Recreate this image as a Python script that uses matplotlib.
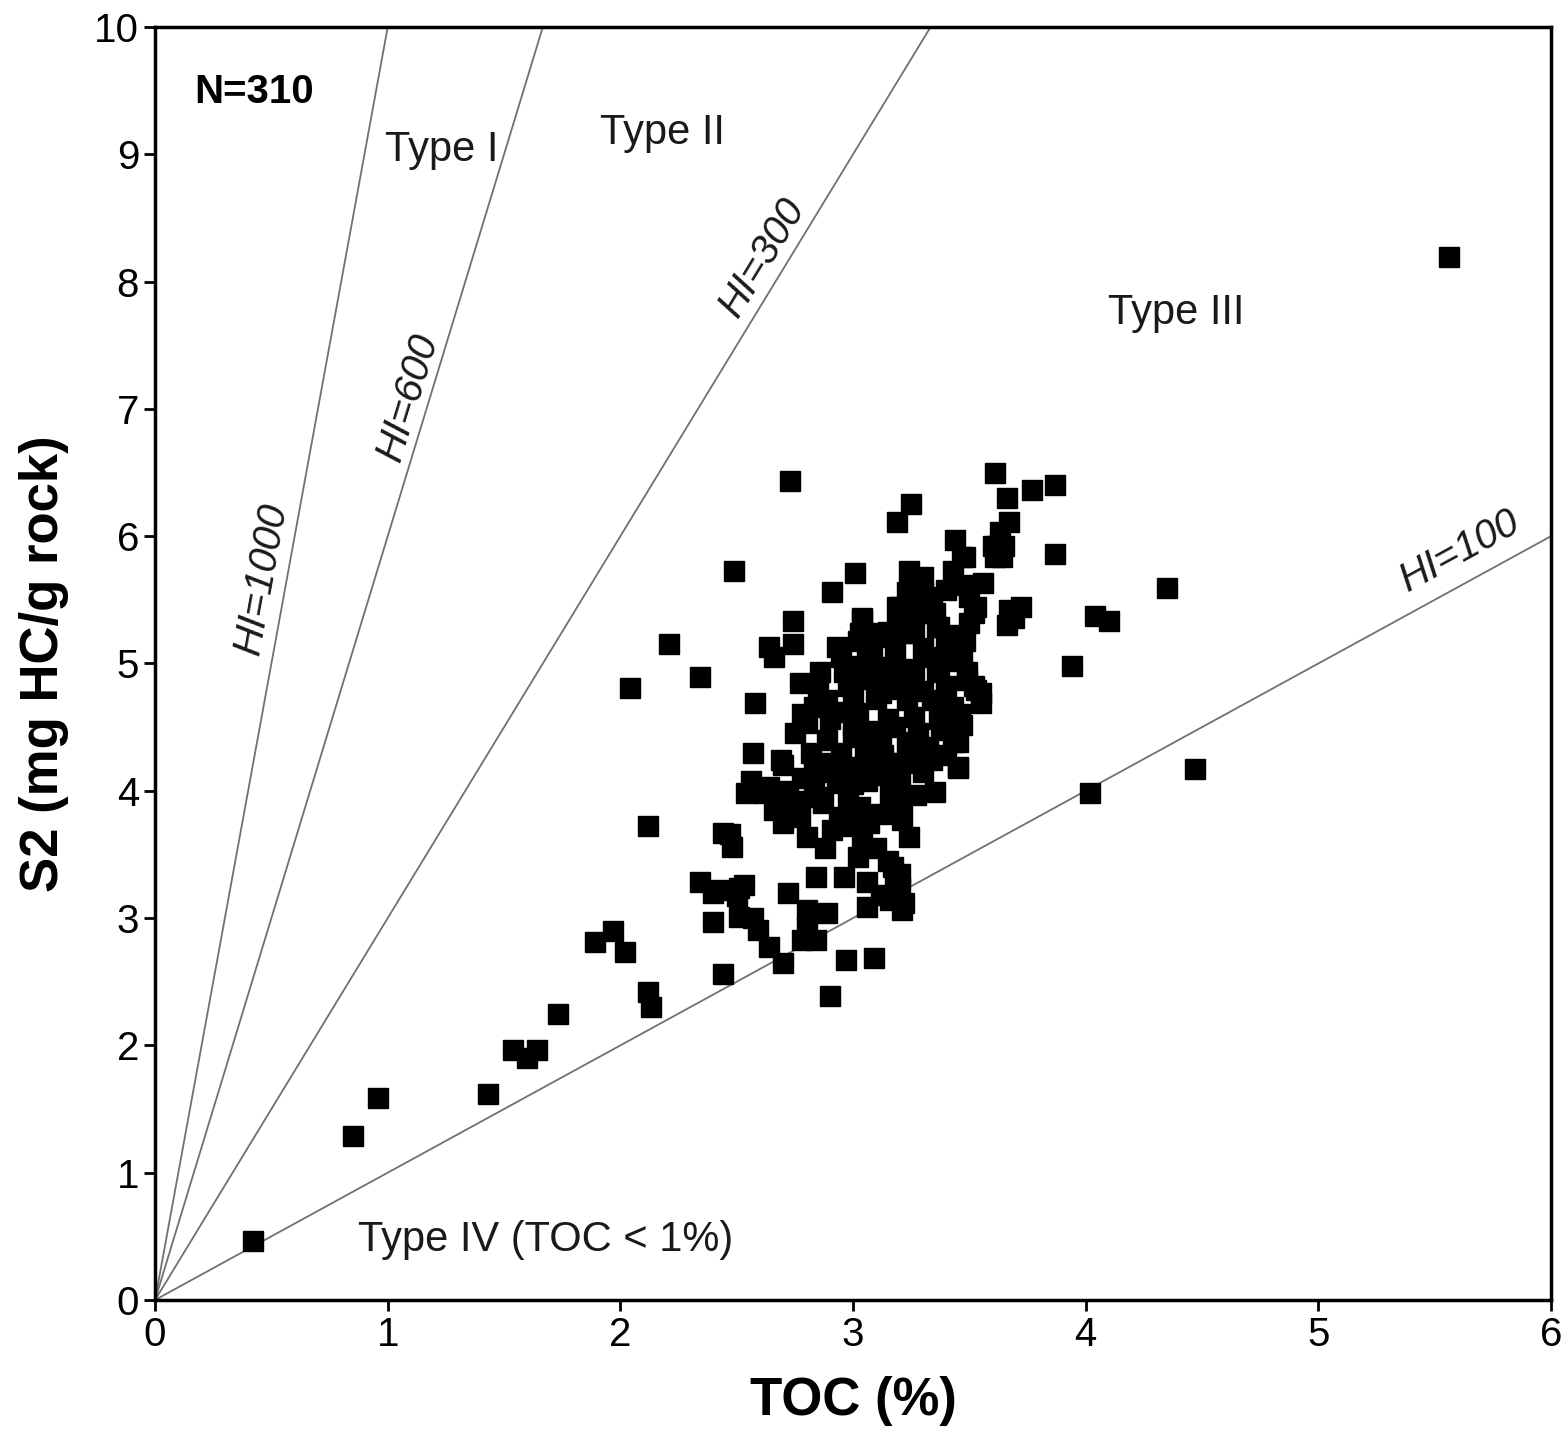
import numpy as np
import matplotlib
matplotlib.use("Agg")
import matplotlib.pyplot as plt

plt.rcParams['font.family'] = ['Liberation Sans', 'DejaVu Sans']

# TOC (%) and S2 (mg HC/g rock)
toc = [0.42, 0.85, 0.96, 1.43, 1.54, 1.60, 1.64, 1.73, 1.89, 1.97, 2.02, 2.12, 2.13,
       2.12, 2.04, 2.21, 2.34, 2.49, 2.73, 2.44, 5.56, 4.47, 4.02, 4.35, 4.04, 4.10,
       3.94, 3.87, 3.87, 3.77, 3.61, 3.66, 3.25, 3.19, 3.01, 2.91, 2.90, 2.97, 3.09, 2.74,
       3.67, 3.63, 3.44, 3.60, 3.65, 3.61, 3.48, 3.24, 3.43, 3.28, 3.49, 3.56, 3.23, 3.34,
       3.50, 3.52, 3.72, 3.66, 3.69, 3.19, 3.29, 2.74, 2.64, 2.66, 3.04, 2.93, 3.03, 3.12,
       3.19, 3.26, 3.37, 3.40, 3.47, 2.77, 2.86, 2.96, 3.06, 3.15, 3.26, 3.37, 3.49, 3.55,
       3.52, 2.58, 2.83, 2.89, 3.00, 3.12, 3.23, 3.34, 3.43, 2.80, 2.90, 3.02, 3.15, 3.26,
       3.37, 3.43, 2.57, 2.69, 2.89, 3.00, 3.12, 3.23, 3.32,
       2.70, 2.83, 2.90, 3.00, 3.09, 3.17, 3.26, 3.34, 3.45, 2.56, 2.54, 2.64, 2.83, 2.93,
       3.06, 3.16, 3.35, 2.69, 2.70, 2.77, 2.80, 2.87, 2.94, 2.91, 3.03, 3.07, 3.04, 3.16,
       3.21, 3.21, 3.24, 2.44, 2.48, 3.02, 2.84, 2.96, 3.06, 3.06, 3.20, 3.20, 3.21, 3.16,
       2.34, 2.40, 2.51, 2.50, 2.40, 2.51, 2.59, 2.72, 2.80, 2.89, 2.80, 2.84, 2.78, 2.64,
       2.70,
       3.30, 3.47, 3.62, 3.64, 3.53, 3.50, 3.67, 3.20, 3.04, 3.02, 3.13, 3.24, 3.36, 3.49,
       3.23, 3.36, 3.53, 3.55, 3.45, 3.45,
       2.95, 3.08, 3.18, 3.30, 3.40, 2.98, 3.05, 3.10, 3.20, 3.30, 3.40, 3.46, 2.93, 3.00,
       3.08, 3.18, 3.28, 3.38, 3.47, 2.95, 3.05, 3.13, 3.22, 3.30, 3.40, 2.92, 3.00, 3.10,
       3.20, 3.27, 2.98, 3.12, 3.00, 3.10, 2.88, 3.15, 3.02, 3.14, 3.24, 3.33, 3.25, 3.35,
       3.30, 3.40, 3.15, 3.42, 3.48, 2.85, 2.78, 2.75, 2.82, 2.78, 2.85, 2.76, 2.72, 2.66,
       2.62, 2.47, 2.42, 2.53, 2.57, 3.18, 3.22, 3.12, 3.17]
s2 = [0.46, 1.29, 1.59, 1.62, 1.96, 1.90, 1.96, 2.25, 2.81, 2.90, 2.73, 2.42, 2.30,
      3.72, 4.81, 5.15, 4.89, 5.73, 6.43, 2.56, 8.19, 4.17, 3.98, 5.59, 5.37, 5.33,
      4.98, 5.86, 6.40, 6.36, 6.50, 6.30, 6.25, 6.11, 5.71, 5.56, 2.39, 2.67, 2.69, 5.33,
      6.11, 6.03, 5.97, 5.92, 5.92, 5.84, 5.84, 5.73, 5.73, 5.66, 5.62, 5.63, 5.56, 5.52,
      5.52, 5.40, 5.44, 5.30, 5.36, 5.44, 5.40, 5.15, 5.13, 5.05, 5.36, 5.13, 5.24, 5.24,
      5.29, 5.24, 5.29, 5.18, 5.08, 4.85, 4.93, 4.93, 5.03, 4.97, 4.89, 4.97, 4.87, 4.77,
      4.82, 4.69, 4.66, 4.71, 4.77, 4.77, 4.71, 4.71, 4.66, 4.53, 4.56, 4.61, 4.56, 4.58,
      4.56, 4.38, 4.30, 4.24, 4.40, 4.42, 4.40, 4.38, 4.34,
      4.20, 4.19, 4.22, 4.19, 4.19, 4.22, 4.30, 4.24, 4.18, 4.08, 3.98, 4.03, 4.08, 4.06,
      4.08, 4.06, 3.99, 3.87, 3.75, 3.79, 3.64, 3.90, 3.79, 3.69, 3.87, 3.75, 3.61, 3.90,
      3.93, 3.77, 3.64, 3.67, 3.56, 3.48, 3.32, 3.32, 3.28, 3.09, 3.35, 3.24, 3.06, 3.14,
      3.28, 3.20, 3.24, 3.17, 2.97, 3.01, 2.91, 3.20, 3.06, 3.04, 2.93, 2.83, 2.83, 2.77,
      2.65,
      5.68, 5.84, 5.92, 5.84, 5.44, 5.32, 5.42, 5.44, 5.34, 5.18, 5.21, 5.24, 5.29, 4.93,
      4.87, 4.93, 4.79, 4.69, 4.38, 4.19,
      5.05, 5.12, 5.08, 5.12, 5.02, 4.82, 4.88, 4.72, 4.80, 4.78, 4.82, 4.60, 4.62, 4.52,
      4.47, 4.50, 4.45, 4.48, 4.52, 4.30, 4.33, 4.28, 4.22, 4.15, 4.28, 4.15, 4.05, 4.12,
      4.05, 3.97, 3.95, 3.82, 3.72, 3.55, 3.55, 3.45, 4.98, 4.92, 4.96, 5.05, 5.35, 5.40,
      5.55, 5.58, 5.25, 5.22, 5.18, 4.82, 4.60, 4.45, 4.30, 4.10, 3.95, 3.92, 4.00, 3.85,
      3.98, 3.66, 3.22, 3.26, 3.00, 3.30, 3.12, 3.18, 3.40]

hi_lines = [1000, 600, 300, 100]
hi_labels = ['HI=1000', 'HI=600', 'HI=300', 'HI=100']
hi_label_pos = [(0.46, 5.67), (1.09, 7.09), (2.61, 8.19), (5.61, 5.88)]
type_labels = ['Type I', 'Type II', 'Type III', 'Type IV (TOC < 1%)']
type_pos = [(1.23, 9.03), (2.18, 9.17), (4.39, 7.75), (1.68, 0.47)]

fig = plt.figure(figsize=(15.68, 14.42), dpi=100)
ax = fig.add_axes([0.0989, 0.0985, 0.8903, 0.8828])

xx = np.array([0, 6.0])
for hi in hi_lines:
    ax.plot(xx, xx*hi/100.0, color='#707070', lw=1.3, zorder=1)

ax.plot(toc, s2, 's', color='black', markersize=14, zorder=3)

ax.set_xlim(0, 6)
ax.set_ylim(0, 10)
ax.set_xticks(range(0, 7))
ax.set_yticks(range(0, 11))
ax.tick_params(direction='out', length=8, width=2, labelsize=29)
for sp in ax.spines.values():
    sp.set_linewidth(2.5)

# rotate labels along the lines (display angle)
fig.canvas.draw()
for hi, lab, (px, py) in zip(hi_lines, hi_labels, hi_label_pos):
    p0 = ax.transData.transform((0, 0))
    p1 = ax.transData.transform((1, hi/100.0))
    ang = np.degrees(np.arctan2(p1[1]-p0[1], p1[0]-p0[0]))
    ax.text(px, py, lab, rotation=ang, rotation_mode='anchor', ha='center', va='center',
            fontsize=29, fontstyle='italic', color='#1a1a1a')

for lab, (px, py) in zip(type_labels, type_pos):
    ax.text(px, py, lab, ha='center', va='center', fontsize=30, color='#1a1a1a')

ax.text(0.17, 9.49, 'N=310', ha='left', va='center', fontsize=29, fontweight='bold')

ax.set_xlabel('TOC (%)', fontsize=38, fontweight='bold', labelpad=16)
ax.set_ylabel('S2 (mg HC/g rock)', fontsize=38, fontweight='bold', labelpad=18)

fig.savefig('out.png', dpi=100)
